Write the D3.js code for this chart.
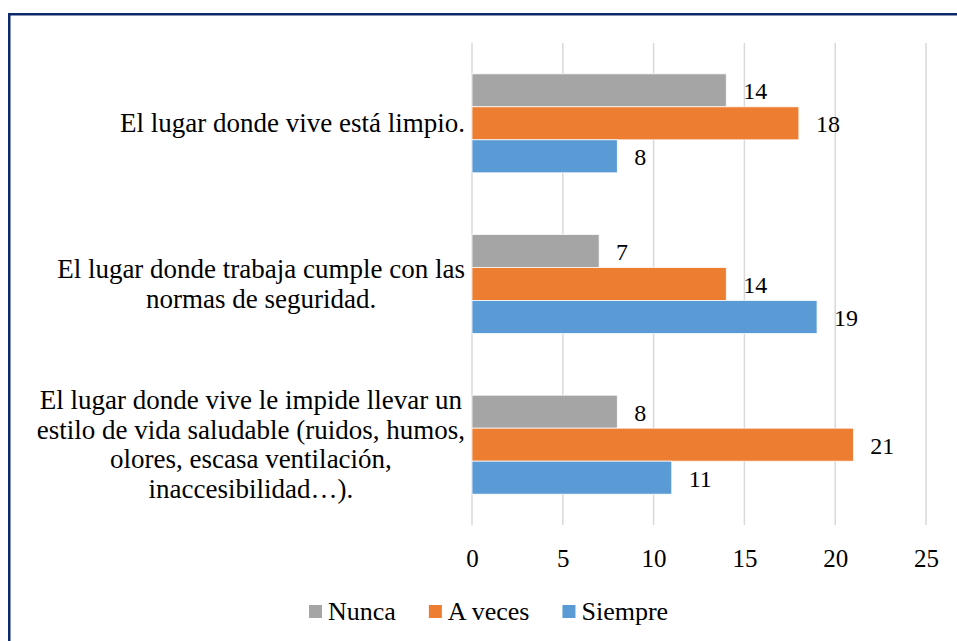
<!DOCTYPE html>
<html>
<head>
<meta charset="utf-8">
<script src="https://cdnjs.cloudflare.com/ajax/libs/d3/7.8.5/d3.min.js"></script>
<style>
  html, body { margin: 0; padding: 0; background: white; }
  svg { display: block; }
  svg text { font-family: 'Liberation Serif', 'Times New Roman', Tinos, 'DejaVu Serif', serif; }
</style>
</head>
<body>
<svg id="chart" width="957" height="641"></svg>
<script>
// chart data
var categories = [
  "El lugar donde vive está limpio.",
  "El lugar donde trabaja cumple con las normas de seguridad.",
  "El lugar donde vive le impide llevar un estilo de vida saludable (ruidos, humos, olores, escasa ventilación, inaccesibilidad…)."
];
var categoryLines = [
  ["El lugar donde vive está limpio."],
  ["El lugar donde trabaja cumple con las", "normas de seguridad."],
  ["El lugar donde vive le impide llevar un", "estilo de vida saludable (ruidos, humos,", "olores, escasa ventilación,", "inaccesibilidad…)."]
];
var seriesNames = ["Nunca", "A veces", "Siempre"];
var nunca = [14, 7, 8];
var aVeces = [18, 14, 21];
var siempre = [8, 19, 11];
var xTicks = [0, 5, 10, 15, 20, 25];

var colors = ["#a5a5a5", "#ed7d31", "#5b9bd5"];
var seriesValues = [nunca, aVeces, siempre];
var serifFont = "'Liberation Serif', 'Times New Roman', Tinos, 'DejaVu Serif', serif";

var svg = d3.select("#chart").attr("font-family", serifFont);

// outer frame (only top and left edges fall inside the picture)
svg.append("rect")
  .attr("x", 9.25)
  .attr("y", 14.25)
  .attr("width", 1000)
  .attr("height", 700)
  .attr("fill", "white")
  .attr("stroke", "#0e2a6a")
  .attr("stroke-width", 2.5);

var plot = { left: 472, right: 926, top: 43, bottom: 525 };

var x = d3.scaleLinear().domain([0, 25]).range([plot.left, plot.right]);

var y = d3.scaleBand()
  .domain(d3.range(categories.length))
  .range([plot.top, plot.bottom])
  .paddingInner(0.384)
  .paddingOuter(0.192);

var ySub = d3.scaleBand()
  .domain(d3.range(seriesNames.length))
  .range([0, y.bandwidth()]);

// gridlines
svg.append("g")
  .selectAll("line")
  .data(xTicks)
  .enter()
  .append("line")
  .attr("x1", function (d) { return x(d); })
  .attr("x2", function (d) { return x(d); })
  .attr("y1", plot.top)
  .attr("y2", plot.bottom)
  .attr("stroke", "#d9d9d9")
  .attr("stroke-width", 1.5);

// x axis labels
var xAxis = d3.axisBottom(x).tickValues(xTicks).tickSize(0).tickPadding(0);
var gx = svg.append("g")
  .attr("transform", "translate(0," + 567 + ")")
  .call(xAxis)
  .attr("font-family", serifFont)
  .attr("font-size", 25);
gx.select(".domain").remove();
gx.selectAll("text")
  .attr("dy", 0)
  .attr("y", 0)
  .attr("fill", "#000");

// bars
for (let s = 0; s < seriesNames.length; s++) {
  let g = svg.append("g");
  g.selectAll("rect")
    .data(seriesValues[s])
    .enter()
    .append("rect")
    .attr("x", x(0))
    .attr("y", function (d, i) { return y(i) + ySub(s); })
    .attr("width", function (d) { return x(d) - x(0); })
    .attr("height", ySub.bandwidth())
    .attr("fill", colors[s])
    .attr("stroke", "white")
    .attr("stroke-width", 0.75);

  g.selectAll("text")
    .data(seriesValues[s])
    .enter()
    .append("text")
    .attr("x", function (d) { return x(d) + 17; })
    .attr("y", function (d, i) { return y(i) + ySub(s) + ySub.bandwidth() / 2 + 9; })
    .attr("font-size", 24)
    .attr("fill", "#000")
    .text(function (d) { return d; });
}

// category labels: block right aligned, lines centered inside it
var labelRight = 465;
var lineHeight = 29.5;
var measure = svg.append("text").attr("font-size", 27);
for (let i = 0; i < categoryLines.length; i++) {
  let lines = categoryLines[i];
  let maxW = 0;
  lines.forEach(function (l) {
    measure.text(l);
    maxW = Math.max(maxW, measure.node().getComputedTextLength());
  });
  let cx = labelRight - maxW / 2;
  let cy = y(i) + y.bandwidth() / 2;
  let first = cy - (lines.length - 1) * lineHeight / 2 + 9;
  let t = svg.append("text")
    .attr("text-anchor", "middle")
    .attr("font-size", 27)
    .attr("fill", "#000");
  lines.forEach(function (l, j) {
    t.append("tspan")
      .attr("x", cx)
      .attr("y", first + j * lineHeight)
      .text(l);
  });
}
measure.remove();

// legend
var legend = svg.append("g");
var lx = 309;
for (let s = 0; s < seriesNames.length; s++) {
  legend.append("rect")
    .attr("x", lx)
    .attr("y", 605)
    .attr("width", 13)
    .attr("height", 13)
    .attr("fill", colors[s]);
  let txt = legend.append("text")
    .attr("x", lx + 19)
    .attr("y", 620)
    .attr("font-size", 26)
    .attr("fill", "#000")
    .text(seriesNames[s]);
  lx += 19 + txt.node().getComputedTextLength() + 33;
}
</script>
</body>
</html>
